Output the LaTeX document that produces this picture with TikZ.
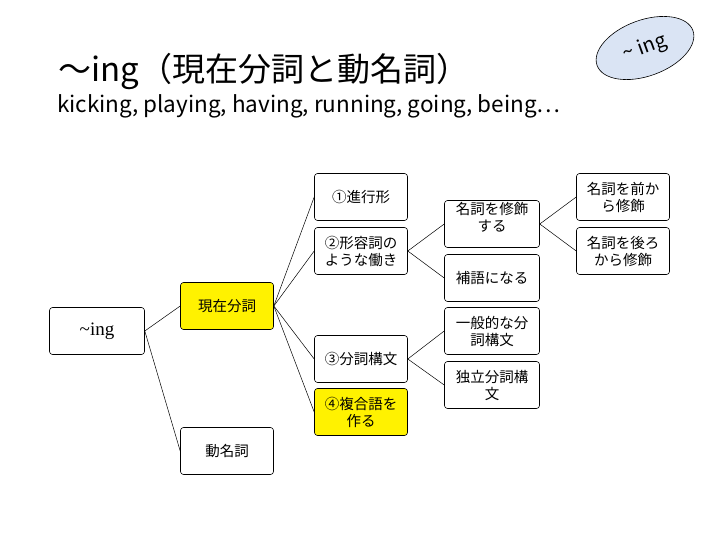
\documentclass[tikz,border=0pt]{standalone}
\usepackage{fontspec}
\usetikzlibrary{shapes.geometric}
\setmainfont{Noto Sans CJK JP}
\newfontfamily\serifen{Liberation Serif}
\begin{document}
\begin{tikzpicture}[x=1pt,y=-1pt,
 bx/.style={draw,rounded corners=3pt,minimum width=93pt,minimum height=47pt,align=center,font=\fontsize{14.5}{17}\selectfont,inner sep=1pt,line width=0.6pt},
 yb/.style={bx,fill=yellow},
 ln/.style={line width=0.5pt}]
\useasboundingbox (0,0) rectangle (720,540);
\fill[white] (0,0) rectangle (720,540);
\node[bx,minimum width=95pt,font=\serifen\fontsize{19}{20}\selectfont] (ing) at (97,331) {\textasciitilde ing};
\node[yb] (gen) at (227,306) {現在分詞};
\node[bx] (dou) at (227,451) {動名詞};
\node[bx] (n1) at (361,197) {①進行形};
\node[bx] (n2) at (361,251) {②形容詞の\\ような働き};
\node[bx] (n3) at (361,359) {③分詞構文};
\node[yb] (n4) at (361,412) {④複合語を\\作る};
\node[bx,minimum width=95pt] (m1) at (492,224) {名詞を修飾\\する\\[-2pt]};
\node[bx,minimum width=95pt] (m2) at (492,278) {補語になる};
\node[bx,minimum width=95pt] (m3) at (492,331) {一般的な分\\詞構文};
\node[bx,minimum width=95pt] (m4) at (492,385) {独立分詞構\\文};
\node[bx] (p1) at (623,197) {名詞を前か\\ら修飾};
\node[bx] (p2) at (623,251) {名詞を後ろ\\から修飾};
\foreach \a/\b in {ing/gen,ing/dou,gen/n1,gen/n2,gen/n3,gen/n4,n2/m1,n2/m2,n3/m3,n3/m4,m1/p1,m1/p2}
 \draw[ln] (\a.east) -- (\b.west);
\node[draw,ellipse,fill={rgb,255:red,218;green,228;blue,244},rotate=20,minimum width=102pt,minimum height=56pt,line width=0.6pt,font=\fontsize{20}{22}\selectfont] (el) at (645,48) {\textasciitilde{} ing};
\node[anchor=base west,inner sep=0,font=\fontsize{33}{36}\selectfont] (t1) at (58,82) {～ing（現在分詞と動名詞）};
\node[anchor=base west,inner sep=0,font=\fontsize{22.5}{25}\selectfont] (t2) at (57,113) {kicking, playing, having, running, going, being…};
\end{tikzpicture}
\end{document}
